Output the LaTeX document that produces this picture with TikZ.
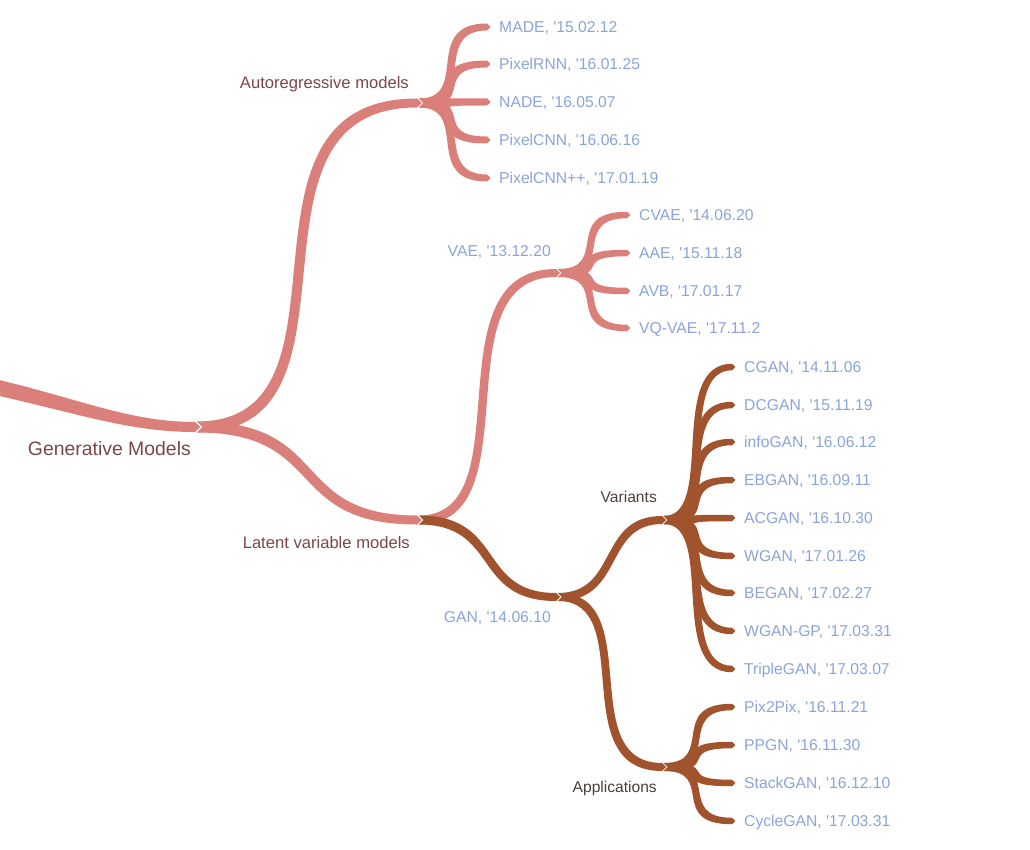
\documentclass[tikz,border=0pt]{standalone}
\usepackage{fontspec}
\setmainfont{Liberation Sans}
\usetikzlibrary{calc}

\definecolor{branchpink}{HTML}{DB7F7B}
\definecolor{branchbrown}{HTML}{A0532D}
\definecolor{leafblue}{HTML}{8AA4DB}
\definecolor{labelred}{HTML}{7A464B}
\definecolor{labeldark}{HTML}{4B3E3C}

\newcommand\apos{\textquotesingle}
% tapered S-shaped branch: handles #1 and #2, from #3 to #4, width #5 to #6
\newcommand\branchk[7]{%
	\fill[#7] let \p1=(#3), \p2=(#4), \n1={#5/2}, \n2={#6/2},
		\n3={sign(\y2-\y1)*1.33*tan(atan2(abs(\y2-\y1),(1-(#1+#2)/2)*(\x2-\x1))/2)*(#5+#6)/4},
		\n5={\x1+#1*(\x2-\x1)}, \n6={\x2-#2*(\x2-\x1)} in
		(\x1,\y1+\n1) .. controls ({\n5-\n3},\y1+\n1) and ({\n6-\n3},\y2+\n2) .. (\x2-2,\y2+\n2)
		-- (\x2-2+\n2,\y2) -- (\x2-2,\y2-\n2)
		.. controls ({\n6+\n3},\y2-\n2) and ({\n5+\n3},\y1-\n1) .. (\x1,\y1-\n1)
		-- (\x1+\n1,\y1) -- cycle;}
\newcommand\branch{\branchk{0.6}{0.6}}
\newcommand\tallbranch{\branchk{0.8}{0.9}}

\begin{document}
\begin{tikzpicture}[x=1pt, y=1pt,
	pinkbranch/.style={fill=branchpink},
	brownbranch/.style={fill=branchbrown},
	leaf/.style={anchor=west, xshift=10pt, inner sep=0pt, text height=11.2pt, text depth=0pt, text=leafblue, font=\fontsize{15.7}{18}\selectfont},
	sublabel/.style={anchor=east, inner sep=0pt, text height=11.2pt, text depth=0pt, font=\fontsize{16.6}{19}\selectfont},
	rootlabel/.style={anchor=east, inner sep=0pt, text height=13.9pt, text depth=0pt, text=labelred, font=\fontsize{19.4}{22}\selectfont}]

	\useasboundingbox (0,0) rectangle (1030,-850);

	\coordinate (start) at (-5,-387);
	\coordinate (R) at (197,-427);
	\coordinate (A) at (419,-103);
	\coordinate (L) at (419,-520);
	\coordinate (V) at (558,-273);
	\coordinate (G) at (558,-597);
	\coordinate (Vr) at (664,-520);
	\coordinate (Ap) at (664,-767);

	\coordinate (made) at (489,-27);
	\coordinate (pixelrnn) at (489,-64);
	\coordinate (nade) at (489,-102);
	\coordinate (pixelcnn) at (489,-140);
	\coordinate (pixelcnnpp) at (489,-178);

	\coordinate (cvae) at (629,-215);
	\coordinate (aae) at (629,-253);
	\coordinate (avb) at (629,-291);
	\coordinate (vqvae) at (629,-328);

	\coordinate (cgan) at (734,-367);
	\coordinate (dcgan) at (734,-405);
	\coordinate (infogan) at (734,-442);
	\coordinate (ebgan) at (734,-480);
	\coordinate (acgan) at (734,-518);
	\coordinate (wgan) at (734,-556);
	\coordinate (began) at (734,-593);
	\coordinate (wgangp) at (734,-631);
	\coordinate (triplegan) at (734,-669);

	\coordinate (pixpix) at (734,-707);
	\coordinate (ppgn) at (734,-745);
	\coordinate (stackgan) at (734,-783);
	\coordinate (cyclegan) at (734,-821);

	\fill[pinkbranch] let \p1=(start), \p2=(R) in
		(\x1,\y1+8) .. controls (80,-399) and (130,-422) .. (\x2-2,\y2+5)
		-- (\x2+3,\y2) -- (\x2-2,\y2-5)
		.. controls (130,-432) and (80,-414) .. (\x1,\y1-8) -- cycle;

	\tallbranch{R}{A}{11}{9}{pinkbranch}
	\branch{R}{L}{11}{9}{pinkbranch}
	\tallbranch{L}{V}{9}{8}{pinkbranch}
	\branch{L}{G}{9}{8}{brownbranch}
	\branch{G}{Vr}{8}{8}{brownbranch}
	\tallbranch{G}{Ap}{8}{8}{brownbranch}

	\tallbranch{A}{made}{9}{7}{pinkbranch}
	\tallbranch{A}{pixelrnn}{9}{7}{pinkbranch}
	\tallbranch{A}{nade}{9}{7}{pinkbranch}
	\tallbranch{A}{pixelcnn}{9}{7}{pinkbranch}
	\tallbranch{A}{pixelcnnpp}{9}{7}{pinkbranch}

	\tallbranch{V}{cvae}{8}{6.5}{pinkbranch}
	\tallbranch{V}{aae}{8}{6.5}{pinkbranch}
	\tallbranch{V}{avb}{8}{6.5}{pinkbranch}
	\tallbranch{V}{vqvae}{8}{6.5}{pinkbranch}

	\tallbranch{Vr}{cgan}{8}{6.5}{brownbranch}
	\tallbranch{Vr}{dcgan}{8}{6.5}{brownbranch}
	\tallbranch{Vr}{infogan}{8}{6.5}{brownbranch}
	\tallbranch{Vr}{ebgan}{8}{6.5}{brownbranch}
	\tallbranch{Vr}{acgan}{8}{6.5}{brownbranch}
	\tallbranch{Vr}{wgan}{8}{6.5}{brownbranch}
	\tallbranch{Vr}{began}{8}{6.5}{brownbranch}
	\tallbranch{Vr}{wgangp}{8}{6.5}{brownbranch}
	\tallbranch{Vr}{triplegan}{8}{6.5}{brownbranch}

	\tallbranch{Ap}{pixpix}{8}{6.5}{brownbranch}
	\tallbranch{Ap}{ppgn}{8}{6.5}{brownbranch}
	\tallbranch{Ap}{stackgan}{8}{6.5}{brownbranch}
	\tallbranch{Ap}{cyclegan}{8}{6.5}{brownbranch}

	\node (rootlab) at ([shift={(-6,-22)}]R) [rootlabel] {Generative Models};
	\node (arlab) at ([shift={(-10,20)}]A) [sublabel, text=labelred] {Autoregressive models};
	\node (lvlab) at ([shift={(-9,-23)}]L) [sublabel, text=labelred] {Latent variable models};
	\node (vaelab) at ([shift={(-7,22)}]V) [sublabel, text=leafblue, font=\fontsize{15.7}{18}\selectfont] {VAE, \apos13.12.20};
	\node (ganlab) at ([shift={(-7,-20)}]G) [sublabel, text=leafblue, font=\fontsize{15.7}{18}\selectfont] {GAN, \apos14.06.10};
	\node (varlab) at ([shift={(-7,23)}]Vr) [sublabel, text=labeldark, font=\fontsize{15.6}{18}\selectfont] {Variants};
	\node (applab) at ([shift={(-7,-20)}]Ap) [sublabel, text=labeldark, font=\fontsize{15.6}{18}\selectfont] {Applications};

	\node (madelab) at (made) [leaf] {MADE, \apos15.02.12};
	\node (pixelrnnlab) at (pixelrnn) [leaf] {PixelRNN, \apos16.01.25};
	\node (nadelab) at (nade) [leaf] {NADE, \apos16.05.07};
	\node (pixelcnnlab) at (pixelcnn) [leaf] {PixelCNN, \apos16.06.16};
	\node (pixelcnnpplab) at (pixelcnnpp) [leaf] {PixelCNN++, \apos17.01.19};

	\node (cvaelab) at (cvae) [leaf] {CVAE, \apos14.06.20};
	\node (aaelab) at (aae) [leaf] {AAE, \apos15.11.18};
	\node (avblab) at (avb) [leaf] {AVB, \apos17.01.17};
	\node (vqvaelab) at (vqvae) [leaf] {VQ-VAE, \apos17.11.2};

	\node (cganlab) at (cgan) [leaf] {CGAN, \apos14.11.06};
	\node (dcganlab) at (dcgan) [leaf] {DCGAN, \apos15.11.19};
	\node (infoganlab) at (infogan) [leaf] {infoGAN, \apos16.06.12};
	\node (ebganlab) at (ebgan) [leaf] {EBGAN, \apos16.09.11};
	\node (acganlab) at (acgan) [leaf] {ACGAN, \apos16.10.30};
	\node (wganlab) at (wgan) [leaf] {WGAN, \apos17.01.26};
	\node (beganlab) at (began) [leaf] {BEGAN, \apos17.02.27};
	\node (wgangplab) at (wgangp) [leaf] {WGAN-GP, \apos17.03.31};
	\node (tripleganlab) at (triplegan) [leaf] {TripleGAN, \apos17.03.07};

	\node (pixpixlab) at (pixpix) [leaf] {Pix2Pix, \apos16.11.21};
	\node (ppgnlab) at (ppgn) [leaf] {PPGN, \apos16.11.30};
	\node (stackganlab) at (stackgan) [leaf] {StackGAN, \apos16.12.10};
	\node (cycleganlab) at (cyclegan) [leaf] {CycleGAN, \apos17.03.31};
\end{tikzpicture}
\end{document}
